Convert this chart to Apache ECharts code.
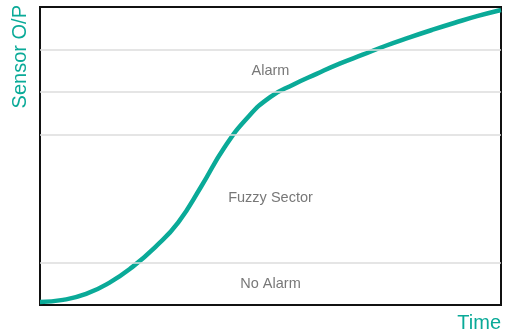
<!DOCTYPE html>
<html>
<head>
<meta charset="utf-8">
<script src="https://cdn.jsdelivr.net/npm/echarts@6/dist/echarts.min.js"></script>
<style>
  html, body { margin: 0; padding: 0; background: #fff; }
  #chart { width: 510px; height: 333px; }
</style>
</head>
<body>
<div id="chart"></div>
<script>
// curve (time 0..100, sensor output 0..7)
const timeValues = [0, 5, 10, 15, 20, 25, 30, 35, 40, 45, 50, 55, 60, 65, 70, 75, 80, 85, 90, 95, 100];
const sensorValues = [0.07, 0.12, 0.26, 0.52, 0.89, 1.36, 1.94, 2.79, 3.70, 4.40, 4.89, 5.18, 5.43, 5.67, 5.88, 6.09, 6.28, 6.46, 6.63, 6.79, 6.93];

// horizontal guide lines
const guideLevels = [1, 4, 5, 6];

// zone labels
const zoneNames = ["Alarm", "Fuzzy Sector", "No Alarm"];
const zoneX = [50, 50, 50];
const zoneY = [5.5, 2.51, 0.49];

const teal = "#0aaa98";

const chart = echarts.init(document.getElementById("chart"));

const curve = timeValues.map((t, i) => [t, sensorValues[i]]);
const zones = zoneNames.map((name, i) => ({ name, value: [zoneX[i], zoneY[i]] }));

chart.setOption({
  animation: false,
  grid: {
    left: 40, right: 9, top: 7, bottom: 27,
    show: true, borderColor: "#111", borderWidth: 2, backgroundColor: "transparent"
  },
  xAxis: {
    type: "value", min: 0, max: 100,
    name: "Time",
    nameLocation: "end",
    nameGap: 0,
    nameTextStyle: {
      color: teal, fontSize: 20, fontFamily: "Liberation Sans, Arial, sans-serif",
      align: "right", verticalAlign: "top", padding: [8, 0, 0, 0]
    },
    axisLine: { show: false }, axisTick: { show: false },
    axisLabel: { show: false }, splitLine: { show: false }
  },
  yAxis: {
    type: "value", min: 0, max: 7,
    name: "Sensor O/P",
    nameLocation: "end",
    nameRotate: 90,
    nameGap: 2,
    nameTextStyle: {
      color: teal, fontSize: 20, fontFamily: "Liberation Sans, Arial, sans-serif",
      align: "right", verticalAlign: "bottom", padding: [0, 0, 10, 0]
    },
    axisLine: { show: false }, axisTick: { show: false },
    axisLabel: { show: false }, splitLine: { show: false }
  },
  series: [
    {
      type: "line",
      data: curve,
      smooth: true,
      showSymbol: false,
      lineStyle: { color: teal, width: 4.5 },
      z: 3,
      markLine: {
        silent: true,
        symbol: "none",
        label: { show: false },
        lineStyle: { color: "#dcdcdc", width: 1.5, type: "solid" },
        data: guideLevels.map((v) => ({ yAxis: v }))
      }
    },
    {
      type: "scatter",
      data: zones,
      symbolSize: 0,
      silent: true,
      label: {
        show: true,
        position: "inside",
        formatter: "{b}",
        color: "#555",
        fontSize: 14.5,
        fontFamily: "Liberation Sans, Arial, sans-serif"
      }
    }
  ]
});
</script>
</body>
</html>
